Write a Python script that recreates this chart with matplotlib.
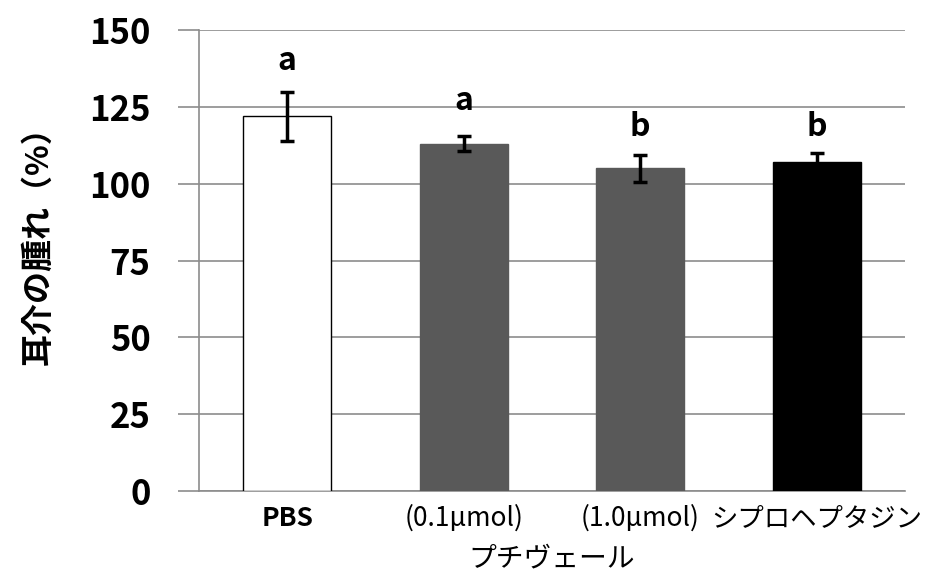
import numpy as np
import matplotlib.pyplot as plt

plt.rcParams['font.family'] = ['Noto Sans CJK JP', 'DejaVu Sans']

labels = ['PBS', '(0.1μmol)', '(1.0μmol)', 'シプロヘプタジン']
values = [122, 113, 105, 107]
errors = [8, 2.5, 4.5, 3]
letters = ['a', 'a', 'b', 'b']
letter_y = [140, 127, 118.5, 118.5]
colors = ['white', '#595959', '#595959', 'black']

fig = plt.figure(figsize=(9.5, 5.79), dpi=100)
ax = fig.add_axes([0.2095, 0.152, 0.743, 0.796])

x = np.arange(len(labels))
ax.bar(x, values, width=0.5, color=colors, edgecolor=['black', '#595959', '#595959', 'black'],
       linewidth=1, zorder=3)
ax.errorbar(x, values, yerr=errors, fmt='none', ecolor='black', elinewidth=2.5,
            capsize=5, capthick=2.5, zorder=4)
for xi, t, yy in zip(x, letters, letter_y):
    ax.text(xi, yy, t, ha='center', va='center', fontsize=23, fontweight='bold')

ax.set_xlim(-0.5, 3.5)
ax.set_ylim(0, 150)
ax.set_yticks([0, 25, 50, 75, 100, 125, 150])
ax.yaxis.grid(True, color='#8c8c8c', linewidth=1.2, zorder=0)
ax.set_xticks(x)
ax.set_xticklabels(labels, fontsize=19)
ax.get_xticklabels()[0].set_fontweight('bold')
for lab in ax.get_yticklabels():
    lab.set_fontsize(25)
    lab.set_fontweight('bold')
ax.tick_params(axis='x', length=0, pad=10)
ax.tick_params(axis='y', length=15, color='#8c8c8c', width=1.2, pad=20)
for s in ['top', 'right']:
    ax.spines[s].set_visible(False)
ax.spines['left'].set_color('#8c8c8c')
ax.spines['bottom'].set_color('#8c8c8c')
ax.spines['left'].set_linewidth(1.2)
ax.spines['bottom'].set_linewidth(1.2)

ax.set_xlabel('プチヴェール', fontsize=20, labelpad=8)
ax.set_ylabel('耳介の腫れ（%）', fontsize=23, fontweight='bold')
ax.yaxis.set_label_coords(-0.205, 0.55)

fig.savefig('out.png', dpi=100)
